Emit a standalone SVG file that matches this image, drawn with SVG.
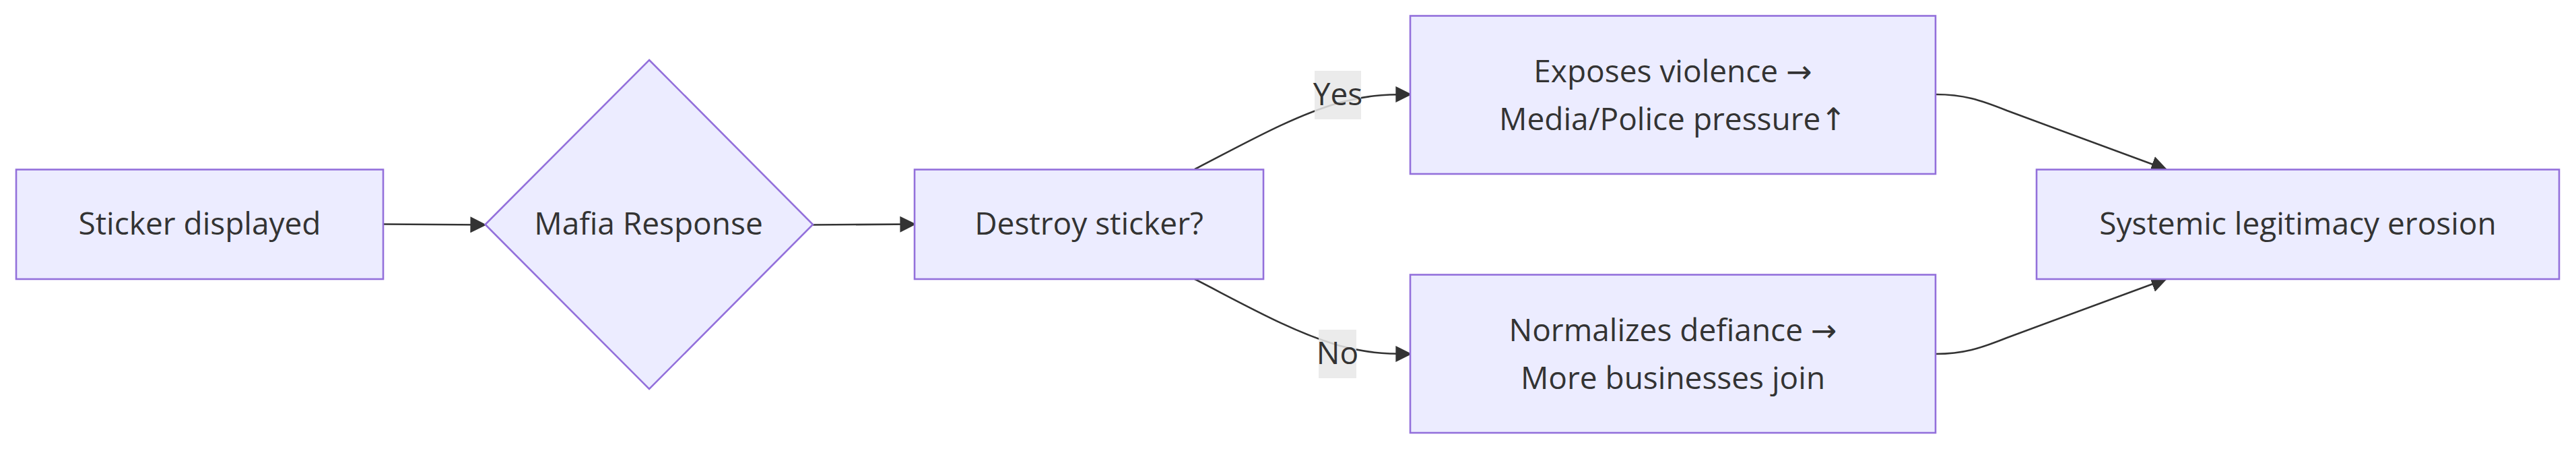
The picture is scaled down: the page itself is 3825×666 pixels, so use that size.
<svg xmlns="http://www.w3.org/2000/svg" width="3825" height="666" viewBox="0 0 3825 666">
<style>
.node rect,.node polygon{fill:#ECECFF;stroke:#9370DB;stroke-width:2.6}
.lbl{font-family:"Open Sans","Liberation Sans",Arial,sans-serif;font-size:46px;fill:#333333;text-anchor:middle}
.sym{font-family:"DejaVu Sans",sans-serif}
.edge{fill:none;stroke:#333333;stroke-width:2.6}
.elbg{fill:#e8e8e8;fill-opacity:0.85}
</style>
<defs>
<marker id="arrow" viewBox="0 0 10 10" refX="9" refY="5" markerUnits="userSpaceOnUse" markerWidth="24" markerHeight="24" orient="auto">
<path d="M0,0 L10,5 L0,10 z" fill="#333333"/>
</marker>
</defs>
<rect width="3825" height="666" fill="#ffffff"/>
<g id="edges">
<path class="edge" d="M569,332.5 L720,333.5" marker-end="url(#arrow)"/>
<path class="edge" d="M1207,333.5 L1358,332.5" marker-end="url(#arrow)"/>
<path class="edge" d="M1774,251 C1850,212 1920,172 1990,152 C2030,142 2050,140 2094,140" marker-end="url(#arrow)"/>
<path class="edge" d="M1774,414 C1850,453 1920,493 1990,513 C2030,523 2050,525 2094,525" marker-end="url(#arrow)"/>
<path class="edge" d="M2874,140 C2915,140 2940,148 2980,164 L3216,251" marker-end="url(#arrow)"/>
<path class="edge" d="M2874,525 C2915,525 2940,517 2980,501 L3216,414" marker-end="url(#arrow)"/>
</g>
<g id="edge-labels">
<g id="label-yes">
<rect class="elbg" x="1952" y="105" width="69" height="72"/>
<text class="lbl" x="1986.5" y="156">Yes</text>
</g>
<g id="label-no">
<rect class="elbg" x="1958" y="489" width="56" height="72"/>
<text class="lbl" x="1986" y="540">No</text>
</g>
</g>
<g id="node-sticker" class="node">
<rect x="24" y="251.5" width="545" height="162.5"/>
<text class="lbl" x="296.5" y="347.5">Sticker displayed</text>
</g>
<g id="node-mafia" class="node">
<polygon points="964,89 1207,333 964,577 720.5,333"/>
<text class="lbl" x="963" y="347.5">Mafia Response</text>
</g>
<g id="node-destroy" class="node">
<rect x="1358" y="251.5" width="518" height="162.5"/>
<text class="lbl" x="1617" y="347.5">Destroy sticker?</text>
</g>
<g id="node-exposes" class="node">
<rect x="2094" y="23.5" width="780" height="234.5"/>
<text class="lbl" x="2484" y="122">Exposes violence <tspan class="sym">→</tspan></text>
<text class="lbl" x="2484" y="193">Media/Police pressure<tspan class="sym">↑</tspan></text>
</g>
<g id="node-normalizes" class="node">
<rect x="2094" y="407.5" width="780" height="234.5"/>
<text class="lbl" x="2484" y="506">Normalizes defiance <tspan class="sym">→</tspan></text>
<text class="lbl" x="2484" y="577">More businesses join</text>
</g>
<g id="node-systemic" class="node">
<rect x="3024" y="251.5" width="776" height="162.5"/>
<text class="lbl" x="3412" y="347.5">Systemic legitimacy erosion</text>
</g>
</svg>
